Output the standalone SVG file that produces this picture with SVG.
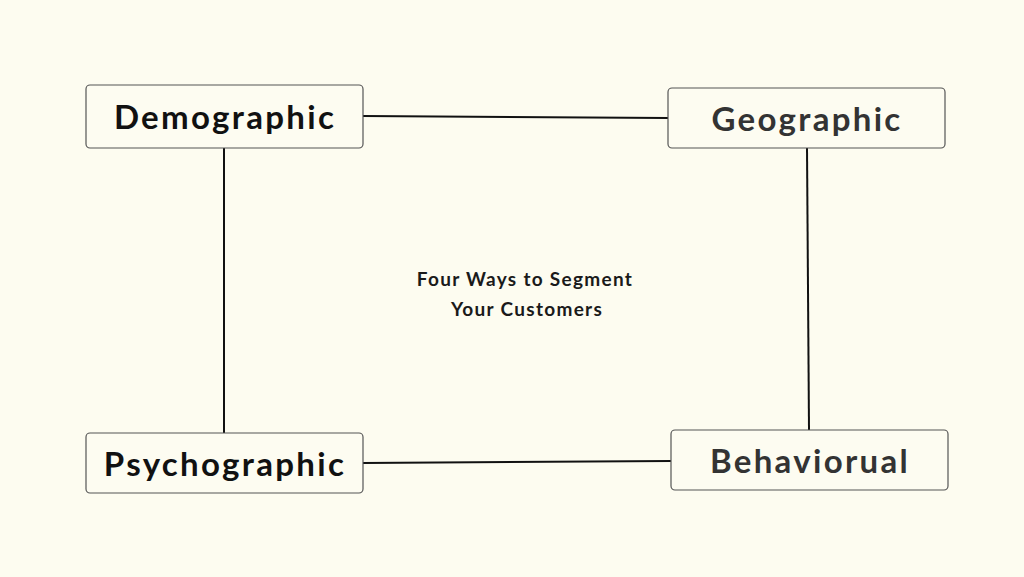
<svg xmlns="http://www.w3.org/2000/svg" width="1024" height="577" viewBox="0 0 1024 577">
<style>
.box{fill:#fdfcf1;stroke:#555;stroke-width:1.2}
.t{font-family:Lato,"Open Sans",sans-serif;font-weight:bold;font-size:33px;text-anchor:middle;letter-spacing:2.3px}
.c{stroke:#111;stroke-width:2;fill:none}
.s{font-family:Lato,"Open Sans",sans-serif;font-weight:bold;font-size:19px;fill:#1a1a1a;text-anchor:middle;letter-spacing:1.3px}
</style>
<rect width="1024" height="577" fill="#fdfcf0"/>
<g id="connectors">
<line class="c" x1="363" y1="116" x2="668" y2="118"/>
<line class="c" x1="224" y1="148" x2="224" y2="433"/>
<line class="c" x1="807" y1="148" x2="809" y2="430"/>
<line class="c" x1="363" y1="463" x2="671" y2="461"/>
</g>
<g id="demographic"><rect class="box" x="86" y="85" width="277" height="63" rx="4"/><text class="t" x="225" y="129" fill="#111">Demographic</text></g>
<g id="geographic"><rect class="box" x="668" y="88" width="277" height="60" rx="4"/><text class="t" x="807" y="131" fill="#333">Geographic</text></g>
<g id="psychographic"><rect class="box" x="86" y="433" width="277" height="60" rx="4"/><text class="t" x="225" y="476" fill="#111">Psychographic</text></g>
<g id="behaviorual"><rect class="box" x="671" y="430" width="277" height="60" rx="4"/><text class="t" x="810" y="473" fill="#333">Behaviorual</text></g>
<g id="title"><text class="s" x="525" y="286">Four Ways to Segment</text><text class="s" x="527" y="316">Your Customers</text></g>
</svg>
